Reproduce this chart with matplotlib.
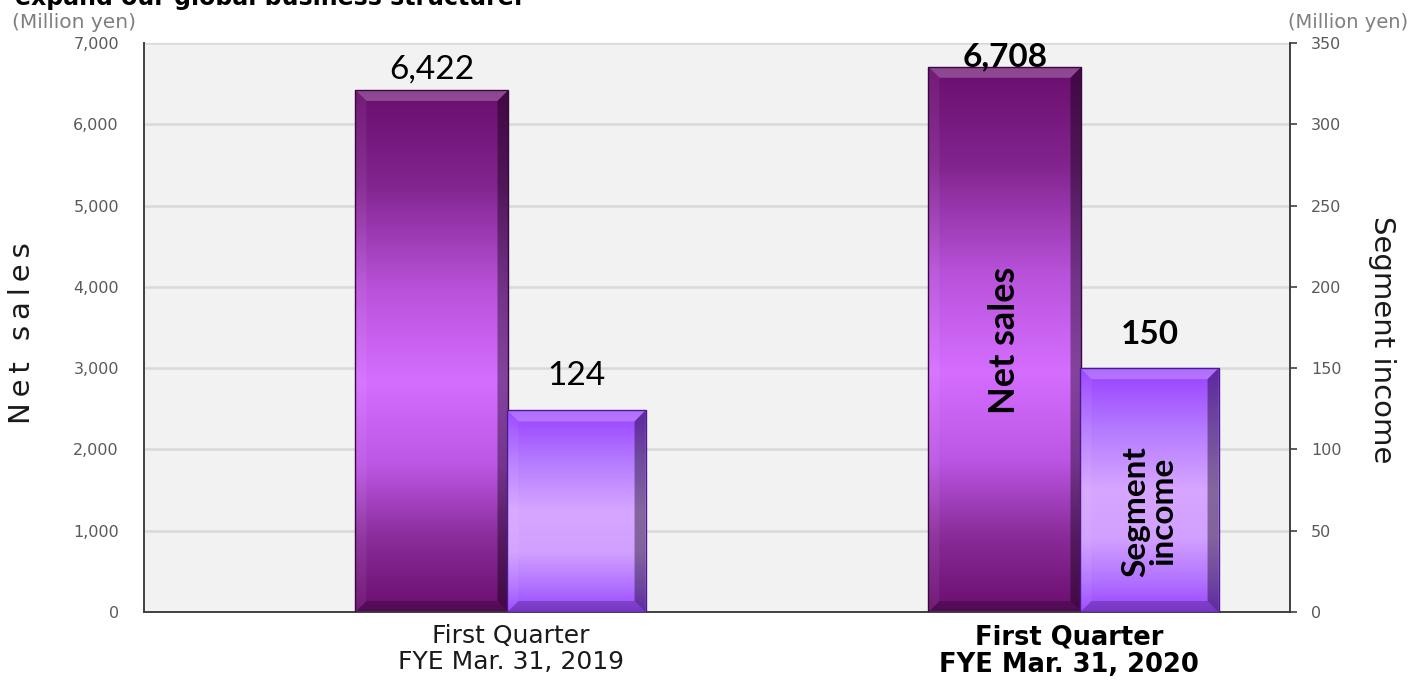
import numpy as np
import matplotlib
matplotlib.use("Agg")
import matplotlib.pyplot as plt
from matplotlib.colors import LinearSegmentedColormap
from matplotlib.patches import Polygon
from matplotlib.ticker import FuncFormatter

# ---- data ----
categories = ["First Quarter\nFYE Mar. 31, 2019", "First Quarter\nFYE Mar. 31, 2020"]
net_sales = [6422, 6708]
segment_income = [124, 150]
left_ticks = [0, 1000, 2000, 3000, 4000, 5000, 6000, 7000]
right_ticks = [0, 50, 100, 150, 200, 250, 300, 350]
title_text = "expand our global business structure."

W, H = 1417, 693
fig = plt.figure(figsize=(W / 100, H / 100), dpi=100)
L, R, B, T = 144, 1290, 612, 43
ax = fig.add_axes([L / W, 1 - B / H, (R - L) / W, (B - T) / H])
ax2 = ax.twinx()

ax.set_facecolor("#F2F2F2")
ax.set_xlim(-0.5, 1.5)
ax.set_ylim(0, 7000)
ax2.set_ylim(0, 350)

ax.set_yticks(left_ticks)
ax2.set_yticks(right_ticks)
ax.yaxis.set_major_formatter(FuncFormatter(lambda v, p: f"{int(v):,}"))
ax.grid(axis="y", color="#D9D9D9", linewidth=1.8, zorder=0)
ax.set_axisbelow(True)

for a in (ax, ax2):
    for s in a.spines.values():
        s.set_visible(False)
ax.spines["left"].set_visible(True)
ax.spines["bottom"].set_visible(True)
ax2.spines["right"].set_visible(True)
for s in (ax.spines["left"], ax.spines["bottom"], ax2.spines["right"]):
    s.set_color("#404040")
    s.set_linewidth(1.4)

ax.tick_params(axis="y", length=0, pad=18, labelsize=11.5, labelcolor="#595959")
ax2.tick_params(axis="y", length=5, width=1.2, color="#404040", pad=10,
                labelsize=11.5, labelcolor="#595959")

net_off, net_w = 0.0026, 0.267
inc_off, inc_w = 0.2548, 0.241
x = np.arange(len(categories))

net_cmap = LinearSegmentedColormap.from_list("net", [
    (0.0, "#6A0E6E"), (0.18, "#82248E"), (0.38, "#B852DA"), (0.56, "#D56EFF"),
    (0.72, "#BC56E4"), (0.86, "#8A2C9A"), (1.0, "#6A0E6E")])
inc_cmap = LinearSegmentedColormap.from_list("inc", [
    (0.0, "#9840FF"), (0.25, "#B57AFF"), (0.5, "#D6A6FF"), (0.7, "#D2A0FF"),
    (0.88, "#B070FF"), (1.0, "#9A44FF")])

grad = np.linspace(0, 1, 256).reshape(-1, 1)


def fancy_bars(a, xs, vals, width, cmap, ymax, edge):
    bars = a.bar(xs, vals, width, color="none", edgecolor=edge, linewidth=1.0, zorder=3)
    px_x = (R - L) / 2.0
    px_y = (B - T) / ymax
    bx = 11 / px_x
    by = 11 / px_y
    for b in bars:
        x0, w, h = b.get_x(), b.get_width(), b.get_height()
        x1 = x0 + w
        im = a.imshow(grad, cmap=cmap, extent=(x0, x1, 0, h), aspect="auto",
                      origin="upper", interpolation="bicubic", zorder=2)
        im.set_clip_path(b)
        facets = [
            ([(x0, h), (x1, h), (x1 - bx, h - by), (x0 + bx, h - by)], "white", 0.24),
            ([(x0, 0), (x1, 0), (x1 - bx, by), (x0 + bx, by)], "black", 0.22),
            ([(x0, 0), (x0, h), (x0 + bx, h - by), (x0 + bx, by)], "white", 0.06),
            ([(x1, 0), (x1, h), (x1 - bx, h - by), (x1 - bx, by)], "black", 0.38),
        ]
        for pts, c, al in facets:
            a.add_patch(Polygon(pts, closed=True, facecolor=c, alpha=al,
                                edgecolor="none", zorder=2.5))
    return bars


nb = fancy_bars(ax, x + net_off, net_sales, net_w, net_cmap, 7000, "#3A0840")
ib = fancy_bars(ax2, x + inc_off, segment_income, inc_w, inc_cmap, 350, "#4A1A90")
ax.set_xlim(-0.5, 1.5)
ax.set_ylim(0, 7000)
ax2.set_ylim(0, 350)

# value labels
ax.annotate(f"{net_sales[0]:,}", (x[0] + net_off, net_sales[0]), xytext=(0, 4),
            textcoords="offset points", ha="center", va="bottom",
            fontsize=24, family="Lato", color="black", zorder=5)
ax.annotate(f"{net_sales[1]:,}", (x[1] + net_off, net_sales[1]), xytext=(0, -3),
            textcoords="offset points", ha="center", va="bottom",
            fontsize=24, family="Lato", fontweight="bold", color="black", zorder=5)
ax2.annotate(f"{segment_income[0]:,}", (x[0] + inc_off, segment_income[0]), xytext=(0, 14),
             textcoords="offset points", ha="center", va="bottom",
             fontsize=24, family="Lato", color="black", zorder=5)
ax2.annotate(f"{segment_income[1]:,}", (x[1] + inc_off, segment_income[1]), xytext=(0, 14),
             textcoords="offset points", ha="center", va="bottom",
             fontsize=24, family="Lato", fontweight="bold", color="black", zorder=5)

# in-bar labels
ax2.text(x[1] + net_off, 167, "Net sales", rotation=90, ha="center", va="center",
         fontsize=26, family="Lato", fontweight="bold", color="black", zorder=6)
ax2.text(x[1] + inc_off, 62, "Segment\nincome", rotation=90, ha="center", va="center",
         fontsize=24, family="Lato", fontweight="bold", color="black",
         linespacing=0.9, multialignment="center", zorder=6)

# x tick labels
ax.set_xticks(x + np.array([0.14, 0.115]))
ax.set_xticklabels(categories)
ax.tick_params(axis="x", length=0, pad=9)
for i, t in enumerate(ax.get_xticklabels()):
    t.set_fontsize(18)
    t.set_color("#1A1A1A")
    t.set_linespacing(1.1)
    if i == 1:
        t.set_fontweight("bold")
        t.set_fontsize(18.5)
        t.set_color("black")

# axis titles
fig.text(22 / W, 1 - 333 / H, "N\u2009e\u2009t\u2009 \u2009s\u2009a\u2009l\u2009e\u2009s",
         rotation=90, ha="center", va="center", fontsize=21, color="#1A1A1A")
fig.text(1382 / W, 1 - 340 / H, "Segment income", rotation=-90, ha="center",
         va="center", fontsize=21, color="#1A1A1A")
fig.text(12 / W, 1 - 22 / H, "(Million yen)", ha="left", va="center",
         fontsize=14.5, color="#7F7F7F")
fig.text(1408 / W, 1 - 22 / H, "(Million yen)", ha="right", va="center",
         fontsize=14, color="#7F7F7F")
fig.text(15 / W, 1 - 5 / H, title_text, ha="left", va="baseline",
         fontsize=17, fontweight="bold", color="black")

fig.savefig("out.png", dpi=100, facecolor="white")
